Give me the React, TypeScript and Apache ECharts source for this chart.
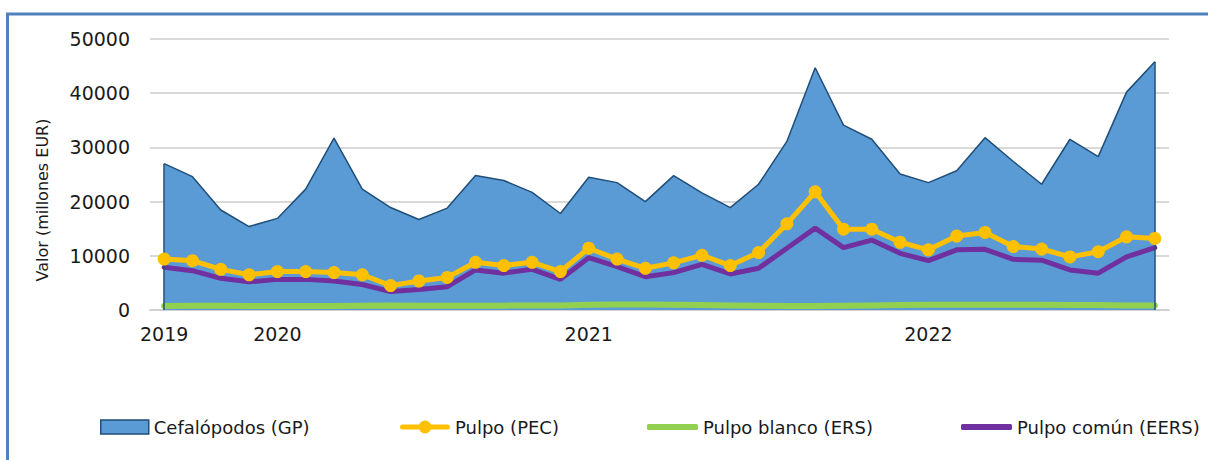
import React, { useEffect, useRef } from "react";
import * as echarts from "echarts";

const periods = [
  "P01", "P02", "P03", "P04", "P05", "P06", "P07", "P08", "P09", "P10", "P11", "P12",
  "P13", "P14", "P15", "P16", "P17", "P18", "P19", "P20", "P21", "P22", "P23", "P24",
  "P25", "P26", "P27", "P28", "P29", "P30", "P31", "P32", "P33", "P34", "P35", "P36",
];

const tickLabels = [
  "2019", "", "", "", "2020", "", "", "", "", "", "", "",
  "", "", "", "2021", "", "", "", "", "", "", "", "",
  "", "", "", "2022", "", "", "", "", "", "", "", "",
];

const cefalopodosGP = [
  27000, 24600, 18450, 15400, 16900, 22300, 31700, 22300, 18900, 16700, 18800, 24800,
  23900, 21700, 17800, 24500, 23500, 20000, 24800, 21600, 18900, 23200, 31100, 44700,
  34100, 31500, 25100, 23500, 25700, 31800, 27400, 23200, 31500, 28300, 40200, 45800,
];

const pulpoPEC = [
  9400, 9100, 7500, 6500, 7100, 7100, 6900, 6500, 4500, 5350, 6000, 8800,
  8200, 8800, 7100, 11400, 9400, 7700, 8700, 10100, 8200, 10600, 15900, 21800,
  14900, 14900, 12500, 11100, 13650, 14300, 11700, 11250, 9800, 10750, 13500, 13200,
];

const pulpoBlancoERS = [
  750, 800, 800, 750, 750, 750, 750, 800, 850, 800, 800, 800,
  800, 850, 850, 950, 1000, 1000, 950, 900, 850, 800, 750, 750,
  800, 850, 900, 950, 950, 950, 950, 950, 900, 900, 850, 850,
];

const pulpoComunEERS = [
  7900, 7250, 5850, 5200, 5650, 5650, 5350, 4700, 3400, 3800, 4300, 7400,
  6800, 7500, 5650, 9650, 8000, 6150, 6900, 8400, 6650, 7700, 11400, 15100,
  11500, 12900, 10450, 9100, 11100, 11200, 9350, 9200, 7400, 6800, 9800, 11500,
];

const seriesNames = ["Cefalópodos (GP)", "Pulpo (PEC)", "Pulpo blanco (ERS)", "Pulpo común (EERS)"];
const yTicks = { min: 0, max: 50000, interval: 10000 };

const FONT = "DejaVu Sans";
const TEXT = "#1a1a1a";
const BLUE = "#5b9bd5";
const NAVY = "#1f4e79";
const YELLOW = "#ffc000";
const GREEN = "#92d050";
const PURPLE = "#7030a0";

const YELLOW_ICON =
  "path://M2.5,4.5 L20,4.5 L20,9.5 L2.5,9.5 A2.5,2.5 0 0 1 2.5,4.5 Z " +
  "M30,4.5 L47.5,4.5 A2.5,2.5 0 0 1 47.5,9.5 L30,9.5 Z " +
  "M18.5,7 A6.5,6.5 0 1 1 31.5,7 A6.5,6.5 0 1 1 18.5,7 Z";

export default function App() {
  const ref = useRef<HTMLDivElement>(null);
  useEffect(() => {
    if (!ref.current) return;
    const chart = echarts.init(ref.current, undefined, { renderer: "svg" });
    const last = periods.length - 1;
    const legendBase = {
      orient: "horizontal",
      padding: 0,
      itemGap: 5,
      top: 418,
      textStyle: { fontFamily: FONT, fontSize: 18, color: TEXT },
    };
    chart.setOption({
      animation: false,
      backgroundColor: "#ffffff",
      textStyle: { fontFamily: FONT },
      grid: { left: 150, right: 39, top: 39, bottom: 150 },
      legend: [
        {
          ...legendBase,
          left: 100,
          itemWidth: 48,
          itemHeight: 14,
          data: [{ name: seriesNames[0], icon: "rect", itemStyle: { color: BLUE, borderColor: NAVY, borderWidth: 1.5 } }],
        },
        {
          ...legendBase,
          left: 400,
          itemWidth: 50,
          itemHeight: 14,
          data: [{ name: seriesNames[1], icon: YELLOW_ICON, itemStyle: { color: YELLOW, borderWidth: 0 } }],
        },
        {
          ...legendBase,
          left: 647,
          itemWidth: 51,
          itemHeight: 6,
          data: [{ name: seriesNames[2], icon: "roundRect", itemStyle: { color: GREEN, borderWidth: 0 } }],
        },
        {
          ...legendBase,
          left: 961,
          itemWidth: 51,
          itemHeight: 6,
          data: [{ name: seriesNames[3], icon: "roundRect", itemStyle: { color: PURPLE, borderWidth: 0 } }],
        },
      ],
      xAxis: {
        type: "category",
        data: periods,
        boundaryGap: true,
        axisLine: { show: true, lineStyle: { color: "#d0d0d0", width: 2 } },
        axisTick: { show: false },
        axisLabel: {
          interval: 0,
          margin: 14,
          fontFamily: FONT,
          fontSize: 19,
          color: TEXT,
          formatter: (_v: string, i: number) => tickLabels[i],
        },
        splitLine: { show: false },
      },
      yAxis: {
        type: "value",
        min: yTicks.min,
        max: yTicks.max,
        interval: yTicks.interval,
        axisLine: { show: false },
        axisTick: { show: false },
        axisLabel: {
          margin: 20,
          fontFamily: FONT,
          fontSize: 19,
          color: TEXT,
          formatter: (v: number) => String(v),
        },
        splitLine: { show: true, lineStyle: { color: "#d9d9d9", width: 2 } },
      },
      graphic: [
        {
          type: "line",
          shape: { x1: 6, y1: 14, x2: 1208, y2: 14 },
          style: { stroke: "#4f81bd", lineWidth: 3 },
        },
        {
          type: "line",
          shape: { x1: 7.5, y1: 13, x2: 7.5, y2: 460 },
          style: { stroke: "#4f81bd", lineWidth: 3 },
        },
        {
          type: "text",
          x: 42,
          y: 200,
          rotation: Math.PI / 2,
          style: {
            text: "Valor (millones EUR)",
            fontFamily: FONT,
            fontSize: 16,
            fill: TEXT,
            textAlign: "center",
            textVerticalAlign: "middle",
          },
        },
      ],
      series: [
        {
          name: seriesNames[0],
          type: "line",
          data: cefalopodosGP,
          symbol: "none",
          lineStyle: { color: NAVY, width: 1.5 },
          itemStyle: { color: BLUE, borderColor: NAVY, borderWidth: 1.5 },
          areaStyle: { color: BLUE, opacity: 1 },
          z: 1,
          markLine: {
            silent: true,
            symbol: "none",
            label: { show: false },
            lineStyle: { color: NAVY, width: 1.5, type: "solid" },
            data: [
              [{ coord: [periods[0], 0] }, { coord: [periods[0], cefalopodosGP[0]] }],
              [{ coord: [periods[last], 0] }, { coord: [periods[last], cefalopodosGP[last]] }],
            ],
          },
        },
        {
          name: seriesNames[2],
          type: "line",
          data: pulpoBlancoERS,
          symbol: "none",
          lineStyle: { color: GREEN, width: 6, cap: "round" },
          itemStyle: { color: GREEN },
          z: 3,
        },
        {
          name: seriesNames[3],
          type: "line",
          data: pulpoComunEERS,
          symbol: "none",
          lineStyle: { color: PURPLE, width: 5, cap: "round" },
          itemStyle: { color: PURPLE },
          z: 4,
        },
        {
          name: seriesNames[1],
          type: "line",
          data: pulpoPEC,
          symbol: "circle",
          symbolSize: 13,
          lineStyle: { color: YELLOW, width: 5 },
          itemStyle: { color: YELLOW },
          z: 5,
        },
      ],
    });
    return () => chart.dispose();
  }, []);
  return (
    <div
      ref={ref}
      style={{ position: "fixed", left: 0, top: 0, width: 1208, height: 460, background: "#fff" }}
    />
  );
}
